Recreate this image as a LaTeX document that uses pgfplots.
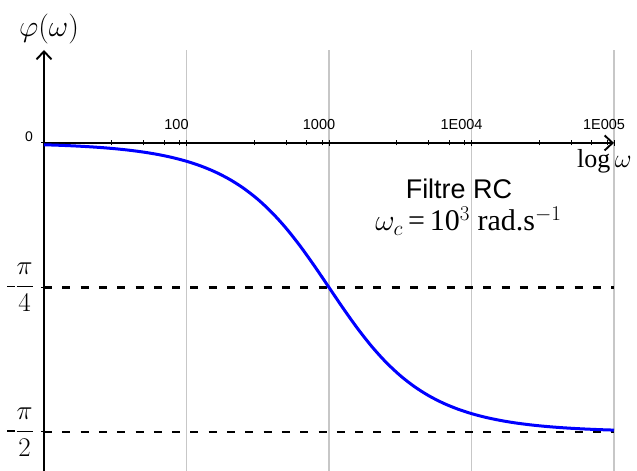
\RequirePackage{fix-cm}
\documentclass[border=0pt]{standalone}
\usepackage{pgfplots}
\pgfplotsset{compat=1.18}
\usepackage{fontspec}
\setmainfont{Liberation Serif}
\setsansfont{Liberation Sans}
\usetikzlibrary{arrows.meta}
\newcommand{\nfrac}[2]{$\displaystyle\vcenter{\hbox{\rule{8pt}{1.3pt}}}\frac{#1}{#2}$}
\begin{document}
\begin{tikzpicture}
\begin{axis}[
  name=ax,
  scale only axis, width=570pt, height=421pt,
  xmode=log, xmin=10, xmax=100000, ymin=-1.783, ymax=0.505,
  axis x line=middle, axis y line=left,
  axis line style={line width=1.9pt, black},
  every inner x axis line/.append style={-{Straight Barb[length=8pt,width=15pt]}},
  every outer y axis line/.append style={-{Straight Barb[length=8pt,width=15pt]}},
  xtick={100,1000,10000,100000},
  xticklabels={100,1000,1E004,1E005},
  minor xtick={30,50,70,90,300,500,700,900,3000,5000,7000,9000,30000,50000,70000,90000},
  xmajorgrids, grid style={black!22, line width=1.5pt},
  xticklabel style={font=\sffamily\fontsize{14.5}{16}\selectfont, anchor=base, yshift=16pt, xshift=-10pt},
  ytick={-1.5708,-0.7854,0},
  yticklabels={\nfrac{\pi}{2}, \nfrac{\pi}{4}, {}},
  yticklabel style={font=\fontsize{27}{30}\selectfont, inner sep=0pt, xshift=-7pt},
  tick align=center, major tick length=6pt, minor tick length=5pt,
  tick style={black, line width=1pt},
  clip=false,
]
\addplot[black, line width=2.8pt, dash pattern=on 8pt off 10.3pt] coordinates {(10,-0.7854) (100000,-0.7854)};
\addplot[black, line width=2.8pt, dash pattern=on 8pt off 10.3pt] coordinates {(10,-1.5708) (100000,-1.5708)};
\addplot[blue, line width=3pt, smooth] coordinates {
(10,-0.0100) (12.589,-0.012589) (15.849,-0.015848) (19.953,-0.019950)
(25.119,-0.025114) (31.623,-0.031612) (39.811,-0.039790) (50.119,-0.050077)
(63.096,-0.063012) (79.433,-0.079267) (100,-0.099669) (125.89,-0.125234)
(158.49,-0.157182) (199.53,-0.196940) (251.19,-0.246098) (316.23,-0.306280)
(398.11,-0.378874) (501.19,-0.464598) (630.96,-0.562872) (794.33,-0.671272)
(1000,-0.785398) (1258.9,-0.899524) (1584.9,-1.007924) (1995.3,-1.106198)
(2511.9,-1.191922) (3162.3,-1.264516) (3981.1,-1.324698) (5011.9,-1.373856)
(6309.6,-1.413614) (7943.3,-1.445562) (10000,-1.471127) (12589,-1.491529)
(15849,-1.507784) (19953,-1.520719) (25119,-1.531006) (31623,-1.539184)
(39811,-1.545682) (50119,-1.550846) (63096,-1.554948) (79433,-1.558208)
(100000,-1.560797)};
\end{axis}
\node[font=\sffamily\fontsize{14}{16}\selectfont, anchor=base east, inner sep=0pt] at ([shift={(-11pt,329pt)}]ax.south west) {0};
\node[font=\fontsize{30}{34}\selectfont, inner sep=0pt] at ([shift={(5pt,442pt)}]ax.south west) {$\varphi(\omega)$};
\node[font=\fontsize{26}{30}\selectfont, anchor=base west, inner sep=0pt] at ([shift={(533pt,303pt)}]ax.south west) {log\,$\omega$};
\node[font=\sffamily\fontsize{27}{30}\selectfont, anchor=base, inner sep=0pt] at ([shift={(415pt,272pt)}]ax.south west) {Filtre RC};
\node[font=\fontsize{30}{34}\selectfont, anchor=base, inner sep=0pt] at ([shift={(424.5pt,240pt)}]ax.south west) {$\omega_c$\,=\,10$^3$ rad.s$^{-1}$};
\pgfresetboundingbox
\path[use as bounding box] ([shift={(-44pt,0pt)}]ax.south west) rectangle ([shift={(593pt,471pt)}]ax.south west);
\end{tikzpicture}
\end{document}
